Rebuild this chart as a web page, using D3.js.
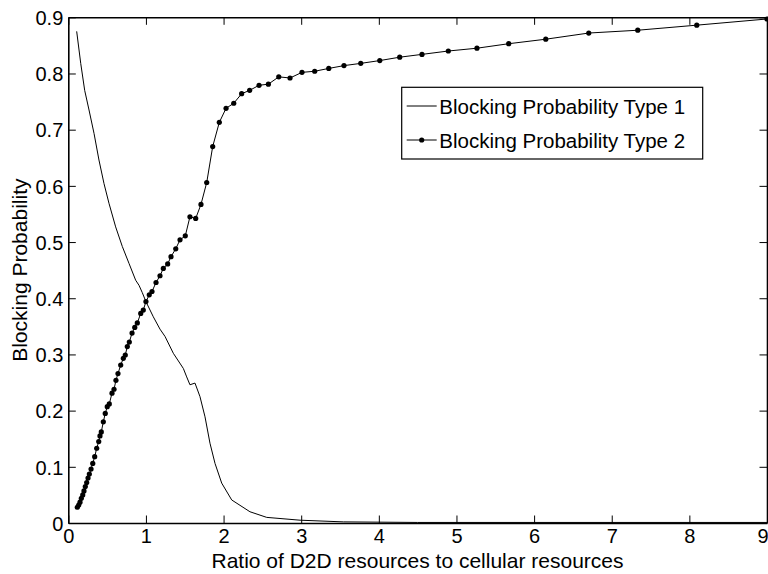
<!DOCTYPE html>
<html>
<head>
<meta charset="utf-8">
<script src="https://cdn.jsdelivr.net/npm/d3@7"></script>
<style>
  html, body { margin: 0; padding: 0; background: #fff; }
  svg { display: block; }
  text { font-family: "Liberation Sans", Arial, Helvetica, sans-serif; fill: #000; }
</style>
</head>
<body>
<svg id="chart" width="768" height="574"></svg>
<script>
// Blocking probability vs. ratio of D2D resources to cellular resources
const type1X = [0.108, 0.160, 0.211, 0.267, 0.332, 0.395, 0.460, 0.524, 0.610, 0.696,
  0.782, 0.868, 0.911, 0.953, 1.000, 1.095, 1.181, 1.246, 1.353, 1.482,
  1.525, 1.567, 1.632, 1.696, 1.761, 1.825, 1.890, 1.976, 2.105, 2.340,
  2.556, 2.985, 3.543, 4.500, 6.000, 9.000];
const type1Y = [0.875, 0.818, 0.770, 0.735, 0.693, 0.646, 0.604, 0.569, 0.527, 0.492,
  0.462, 0.432, 0.423, 0.410, 0.394, 0.367, 0.345, 0.332, 0.302, 0.275,
  0.260, 0.246, 0.249, 0.225, 0.189, 0.142, 0.106, 0.071, 0.041, 0.020,
  0.010, 0.005, 0.002, 0.001, 0.001, 0.001];

const type2X = [0.116, 0.134, 0.151, 0.168, 0.186, 0.202, 0.219, 0.237, 0.254, 0.271,
  0.293, 0.315, 0.340, 0.366, 0.392, 0.408, 0.425, 0.451, 0.476, 0.502,
  0.528, 0.563, 0.589, 0.614, 0.640, 0.675, 0.709, 0.734, 0.760, 0.786,
  0.821, 0.856, 0.889, 0.933, 0.966, 1.000, 1.043, 1.078, 1.130, 1.181,
  1.224, 1.280, 1.323, 1.384, 1.439, 1.507, 1.567, 1.641, 1.709, 1.783,
  1.860, 1.945, 2.032, 2.131, 2.233, 2.336, 2.457, 2.577, 2.711, 2.856,
  3.010, 3.174, 3.355, 3.551, 3.767, 4.012, 4.269, 4.556, 4.895, 5.264,
  5.673, 6.150, 6.704, 7.335, 8.095, 9.000];
const type2Y = [0.028, 0.032, 0.037, 0.044, 0.050, 0.057, 0.065, 0.072, 0.080, 0.087,
  0.096, 0.106, 0.118, 0.133, 0.145, 0.155, 0.162, 0.180, 0.195, 0.207,
  0.212, 0.231, 0.238, 0.254, 0.266, 0.281, 0.293, 0.299, 0.314, 0.322,
  0.338, 0.348, 0.356, 0.373, 0.379, 0.394, 0.406, 0.412, 0.428, 0.440,
  0.453, 0.461, 0.474, 0.488, 0.504, 0.511, 0.545, 0.542, 0.567, 0.606,
  0.670, 0.713, 0.738, 0.747, 0.764, 0.770, 0.779, 0.781, 0.794, 0.792,
  0.802, 0.804, 0.809, 0.814, 0.818, 0.823, 0.829, 0.834, 0.840, 0.845,
  0.853, 0.861, 0.872, 0.877, 0.886, 0.897];

const xTicks = [0, 1, 2, 3, 4, 5, 6, 7, 8, 9];
const yTicks = [0, 0.1, 0.2, 0.3, 0.4, 0.5, 0.6, 0.7, 0.8, 0.9];
const seriesNames = ["Blocking Probability Type 1", "Blocking Probability Type 2"];

const svg = d3.select("#chart");
const plotL = 68.3, plotR = 767, plotT = 17.3, plotB = 523;

const x = d3.scaleLinear().domain([0, 9]).range([plotL, plotR]);
const y = d3.scaleLinear().domain([0, 0.9]).range([plotB, plotT]);

const fmtY = d => d === 0 ? "0" : d3.format(".1f")(d);
const TICK = 7.5;

// Axes: labelled bottom/left, unlabelled top/right, all ticks pointing inward
const gx = svg.append("g").attr("transform", `translate(0,${plotB})`)
  .call(d3.axisBottom(x).tickValues(xTicks).tickFormat(d3.format("d"))
    .tickSizeInner(-TICK).tickSizeOuter(0).tickPadding(6));
const gy = svg.append("g").attr("transform", `translate(${plotL},0)`)
  .call(d3.axisLeft(y).tickValues(yTicks).tickFormat(fmtY)
    .tickSizeInner(-TICK).tickSizeOuter(0).tickPadding(5));
const gt = svg.append("g").attr("transform", `translate(0,${plotT})`)
  .call(d3.axisTop(x).tickValues(xTicks).tickFormat("")
    .tickSizeInner(-TICK).tickSizeOuter(0));
const gr = svg.append("g").attr("transform", `translate(${plotR},0)`)
  .call(d3.axisRight(y).tickValues(yTicks).tickFormat("")
    .tickSizeInner(-TICK).tickSizeOuter(0));

[gx, gy, gt, gr].forEach(g => {
  g.select(".domain").attr("stroke", "#000").attr("stroke-width", 1.6);
  g.selectAll(".tick line").attr("stroke", "#000").attr("stroke-width", 1);
  g.selectAll(".tick text").attr("font-size", 20).attr("font-family", null).attr("fill", "#000");
});
gy.selectAll(".tick text").attr("dy", "0.36em");
// keep the last x label inside the page edge
gx.selectAll(".tick text").filter(d => d === 9)
  .attr("text-anchor", "end").attr("x", 1);

// Axis titles
svg.append("text")
  .attr("x", 417.5).attr("y", 568)
  .attr("text-anchor", "middle").attr("font-size", 21)
  .text("Ratio of D2D resources to cellular resources");
svg.append("text")
  .attr("transform", `translate(27,${(plotT + plotB) / 2}) rotate(-90)`)
  .attr("text-anchor", "middle").attr("font-size", 21)
  .text("Blocking Probability");

// Series
const line = d3.line().x(d => x(d[0])).y(d => y(d[1]));
const s1 = type1X.map((v, i) => [v, type1Y[i]]);
const s2 = type2X.map((v, i) => [v, type2Y[i]]);

svg.append("path").datum(s1)
  .attr("fill", "none").attr("stroke", "#000").attr("stroke-width", 1)
  .attr("d", line);
svg.append("path").datum(s2)
  .attr("fill", "none").attr("stroke", "#000").attr("stroke-width", 1)
  .attr("d", line);
svg.append("g").selectAll("circle").data(s2).join("circle")
  .attr("cx", d => x(d[0])).attr("cy", d => y(d[1])).attr("r", 2.6)
  .attr("fill", "#000");

// Legend
const lg = svg.append("g");
lg.append("rect").attr("x", 401.7).attr("y", 87.3).attr("width", 301).attr("height", 71.7)
  .attr("fill", "#fff").attr("stroke", "#000").attr("stroke-width", 1.2);
const rows = [106, 140];
seriesNames.forEach((name, i) => {
  lg.append("line").attr("x1", 406.7).attr("x2", 436.7).attr("y1", rows[i]).attr("y2", rows[i])
    .attr("stroke", "#000").attr("stroke-width", 1);
  if (i === 1) {
    lg.append("circle").attr("cx", 421.7).attr("cy", rows[i]).attr("r", 2.6).attr("fill", "#000");
  }
  lg.append("text").attr("x", 439.3).attr("y", rows[i] + 7.5)
    .attr("font-size", 20.5).text(name);
});
</script>
</body>
</html>
